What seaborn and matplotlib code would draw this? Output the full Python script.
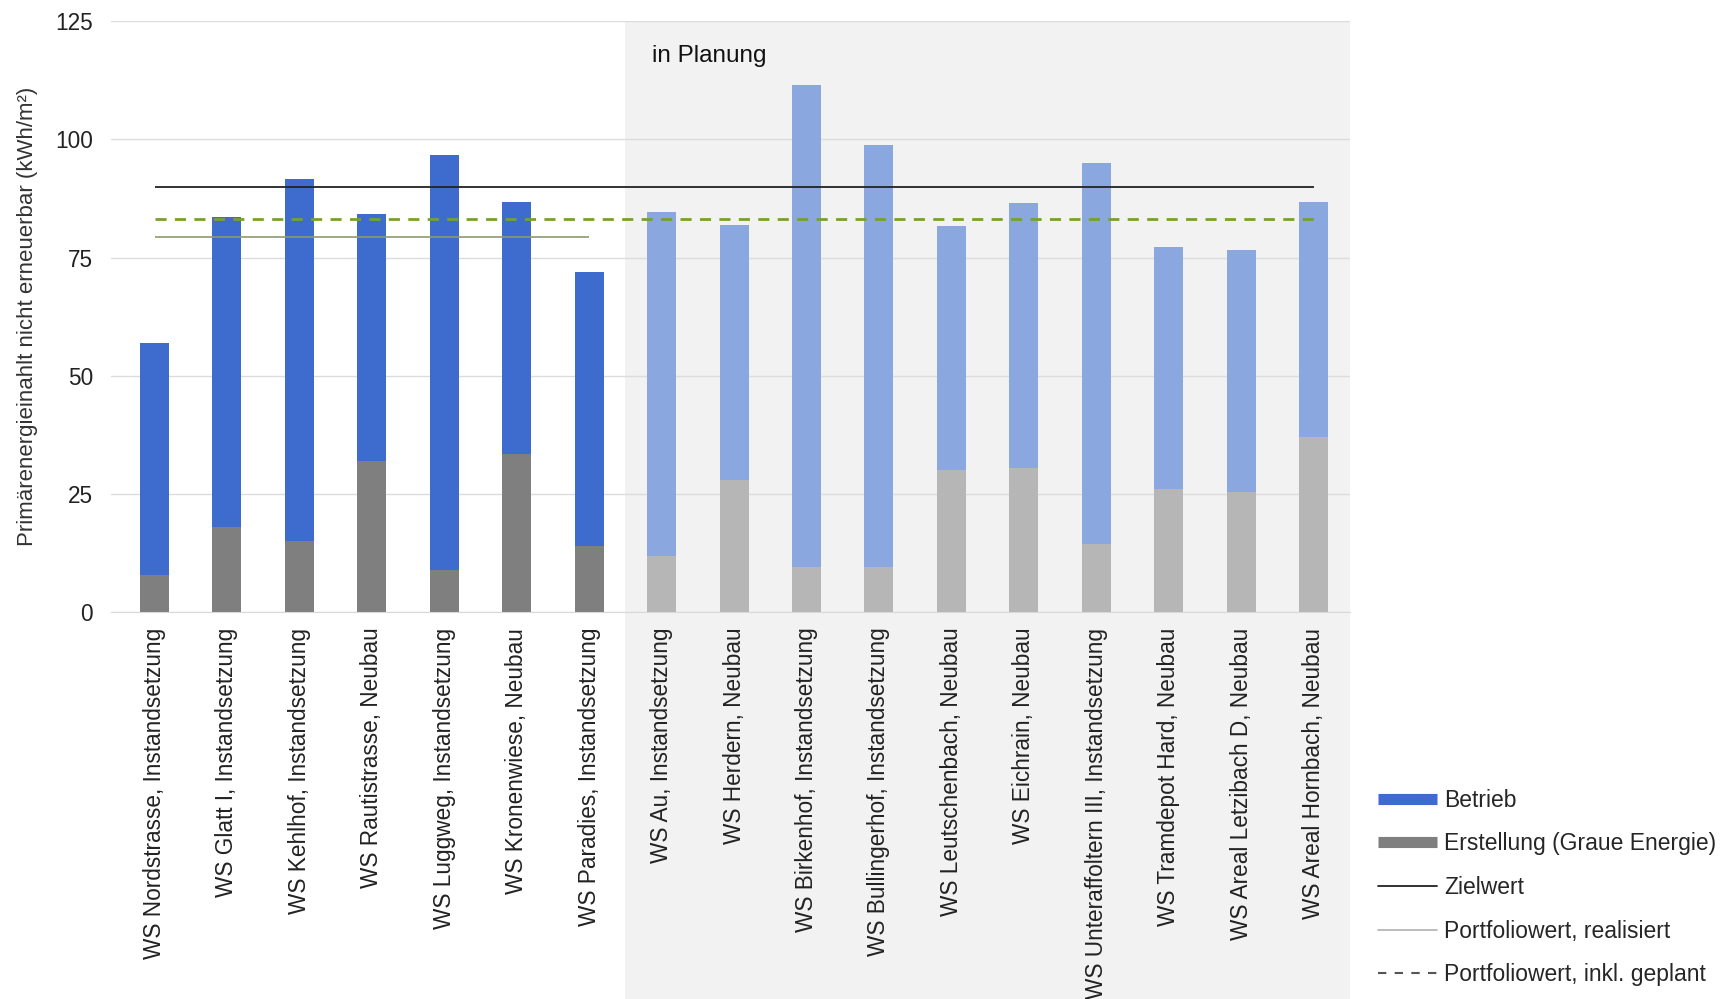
import pandas as pd
import matplotlib
matplotlib.use("Agg")
import matplotlib.pyplot as plt
import seaborn as sns
from matplotlib.lines import Line2D
from matplotlib.patches import Rectangle

# Data
objekte = [
    "WS Nordstrasse, Instandsetzung",
    "WS Glatt I, Instandsetzung",
    "WS Kehlhof, Instandsetzung",
    "WS Rautistrasse, Neubau",
    "WS Luggweg, Instandsetzung",
    "WS Kronenwiese, Neubau",
    "WS Paradies, Instandsetzung",
    "WS Au, Instandsetzung",
    "WS Herdern, Neubau",
    "WS Birkenhof, Instandsetzung",
    "WS Bullingerhof, Instandsetzung",
    "WS Leutschenbach, Neubau",
    "WS Eichrain, Neubau",
    "WS Unteraffoltern III, Instandsetzung",
    "WS Tramdepot Hard, Neubau",
    "WS Areal Letzibach D, Neubau",
    "WS Areal Hornbach, Neubau",
]
status = ["realisiert"] * 7 + ["geplant"] * 10
erstellung = [8, 18, 15, 32, 9, 33.5, 14, 12, 28, 9.5, 9.5, 30, 30.5, 14.5, 26, 25.5, 37]
betrieb = [49, 65.6, 76.5, 52.3, 87.7, 53.3, 57.9, 72.7, 53.9, 101.9, 89.3, 51.7, 56.1, 80.5, 51.2, 51, 49.8]

zielwert = 90
portfolio_realisiert = 79.4
portfolio_geplant = 83.2

df = pd.DataFrame({
    "Objekt": objekte,
    "Status": status,
    "Betrieb": betrieb,
    "Erstellung": erstellung,
})
df["Gesamt"] = df["Betrieb"] + df["Erstellung"]

# Colours
BLUE = "#3d6cce"
BLUE_LIGHT = "#8ba7df"
GREY = "#7f7f7f"
GREY_LIGHT = "#b6b6b6"

sns.set_style("white")
plt.rcParams["font.family"] = ["Liberation Sans", "DejaVu Sans"]

fig = plt.figure(figsize=(17.35, 9.99), dpi=100)
ax = fig.add_axes([0.064, 0.387, 0.714, 0.592])

# planned area shading (goes down through the tick labels)
n_real = status.count("realisiert")
shade = Rectangle((n_real - 0.5, -0.66), len(objekte) - n_real, 1.66,
                  transform=ax.get_xaxis_transform(), facecolor="#f2f2f2",
                  edgecolor="none", clip_on=False, zorder=0)
ax.add_patch(shade)

sns.barplot(data=df, x="Objekt", y="Gesamt", hue="Status", order=objekte,
            palette={"realisiert": BLUE, "geplant": BLUE_LIGHT}, saturation=1,
            dodge=False, width=0.4, linewidth=0, legend=False, ax=ax, zorder=2)
sns.barplot(data=df, x="Objekt", y="Erstellung", hue="Status", order=objekte,
            palette={"realisiert": GREY, "geplant": GREY_LIGHT}, saturation=1,
            dodge=False, width=0.4, linewidth=0, legend=False, ax=ax, zorder=2)

# reference lines
last = len(objekte) - 1
ax.hlines(zielwert, 0, last, color="#222222", lw=1.3, zorder=3)
ax.hlines(portfolio_realisiert, 0, n_real - 1, color="#8d9a6c", lw=1.2, zorder=3)
ax.hlines(portfolio_geplant, 0, last, color="#7aa02c", lw=2, linestyles=(0, (4, 3)), zorder=3)

ax.text(n_real - 0.5 + 0.37, 117.5, "in Planung", fontsize=17.5, va="center", ha="left",
        color="#111111")

ax.set_ylim(0, 125)
ax.set_xlim(-0.6, last + 0.5)
ax.set_yticks([0, 25, 50, 75, 100, 125])
ax.yaxis.grid(True, color="#dcdcdc", lw=1)
ax.set_axisbelow(True)
for s in ["left", "right", "top"]:
    ax.spines[s].set_visible(False)
ax.spines["bottom"].set_color("#d9d9d9")
ax.tick_params(axis="both", length=0, labelsize=16.3, colors="#222222")
ax.tick_params(axis="x", pad=11)
ax.tick_params(axis="y", pad=13)
ax.set_xticks(range(len(objekte)))
ax.set_xticklabels(objekte, rotation=90, ha="center", va="top")
ax.set_xlabel("")
ax.set_ylabel("Primärenergieinahlt nicht erneuerbar (kWh/m²)", fontsize=16,
              color="#333333", labelpad=12)

handles = [
    Line2D([0], [0], color=BLUE, lw=8, solid_capstyle="butt"),
    Line2D([0], [0], color=GREY, lw=8, solid_capstyle="butt"),
    Line2D([0], [0], color="#222222", lw=1.3),
    Line2D([0], [0], color="#b0b0b0", lw=1.2),
    Line2D([0], [0], color="#555555", lw=1.5, linestyle=(0, (4, 4))),
]
labels = ["Betrieb", "Erstellung (Graue Energie)", "Zielwert",
          "Portfoliowert, realisiert", "Portfoliowert, inkl. geplant"]
fig.legend(handles, labels, loc="upper left", bbox_to_anchor=(0.7875, 0.222),
           frameon=False, fontsize=16.5, handlelength=2.6, handletextpad=0.3,
           labelspacing=0.9, borderpad=0)

fig.savefig("out.png", dpi=100)
